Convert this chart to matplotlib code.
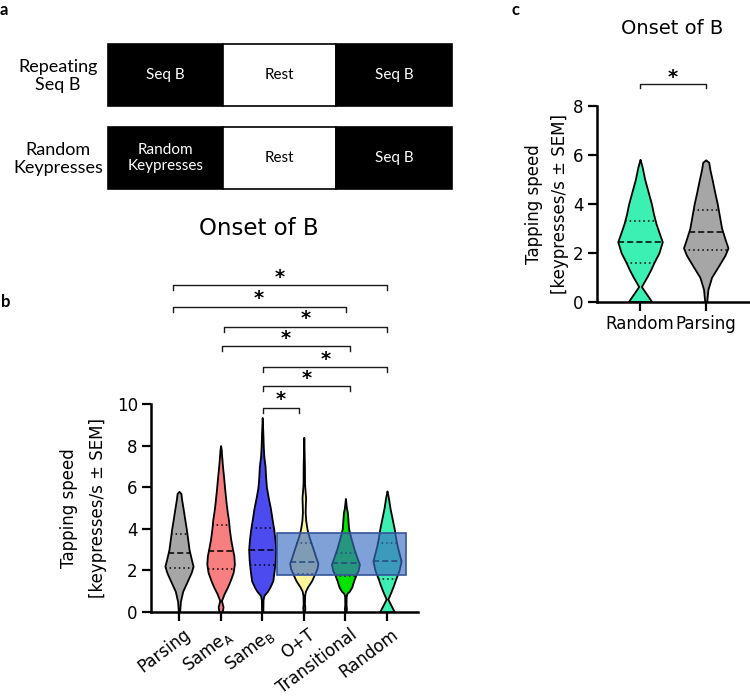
import numpy as np
import matplotlib
matplotlib.use("Agg")
import matplotlib.pyplot as plt
from matplotlib.patches import Rectangle
from matplotlib import transforms

plt.rcParams['font.family'] = ['DejaVu Sans']

# ---------------- data ----------------
conditions = ["Parsing", "Same$_\\mathrm{A}$", "Same$_\\mathrm{B}$", "O+T", "Transitional", "Random"]
colors = ["#a6a6a6", "#f77f7f", "#4b4bf0", "#fff59a", "#00e400", "#3cf0b4"]

# violin half-width profiles: y values and half widths (px at panel-b scale)
parsing_y = [0, 0.5, 1.0, 1.5, 1.9, 2.2, 2.5, 3.0, 3.5, 4.0, 4.5, 5.0, 5.4, 5.7, 5.8]
parsing_w = [0.6, 1.3, 3.5, 8.0, 11.5, 13.3, 11.8, 9.5, 8.2, 6.9, 5.3, 3.8, 2.5, 1.8, 0]
same_a_y = [0, 0.25, 0.55, 0.9, 1.2, 1.5, 1.9, 2.3, 2.7, 3.0, 3.5, 4.0, 4.4, 4.8, 5.2, 6.0, 6.5, 7.0, 7.5, 7.8, 8.0]
same_a_w = [1.5, 2.3, 0.8, 3.5, 6.5, 9.0, 11.8, 13.0, 12.5, 11.3, 9.5, 8.2, 7.5, 6.3, 5.3, 3.7, 2.8, 1.8, 1.0, 0.6, 0]
same_b_y = [0, 0.6, 0.8, 1.0, 1.2, 1.5, 2.0, 2.5, 3.0, 3.5, 4.0, 4.5, 5.0, 5.5, 6.0, 6.5, 7.0, 7.5, 8.0, 8.5, 9.35]
same_b_w = [0.6, 0.8, 1.7, 5.0, 7.3, 10.0, 11.3, 12.3, 12.8, 12.0, 10.8, 9.2, 7.7, 5.7, 4.0, 3.2, 2.7, 1.5, 1.0, 0.7, 0]
ot_y = [0, 0.2, 0.4, 0.8, 1.0, 1.2, 1.5, 1.8, 2.1, 2.35, 2.6, 3.0, 3.3, 3.6, 4.0, 4.4, 4.8, 5.2, 5.5, 5.8, 6.2, 7.0, 8.4]
ot_w = [0.6, 1.0, 0.6, 0.8, 1.5, 3.5, 7.3, 10.0, 12.5, 13.3, 11.5, 9.0, 7.0, 5.0, 3.0, 1.8, 1.3, 1.5, 1.7, 1.2, 0.7, 0.6, 0]
trans_y = [0, 0.15, 0.35, 0.75, 0.9, 1.0, 1.2, 1.5, 1.8, 2.0, 2.3, 2.6, 3.0, 3.5, 4.0, 4.5, 4.8, 5.0, 5.46]
trans_w = [0.6, 1.0, 0.6, 0.7, 1.5, 3.7, 6.0, 7.8, 10.0, 12.0, 13.2, 11.0, 8.3, 5.5, 3.0, 2.3, 1.8, 1.0, 0]
random_y = [0, 0.3, 0.62, 1.0, 1.3, 1.6, 2.0, 2.45, 2.8, 3.2, 3.6, 4.0, 4.5, 5.0, 5.5, 5.82]
random_w = [7.0, 4.0, 0.8, 4.0, 6.3, 8.3, 11.3, 13.3, 11.5, 9.5, 8.0, 6.8, 4.8, 2.8, 1.3, 0]

profiles_y = [parsing_y, same_a_y, same_b_y, ot_y, trans_y, random_y]
profiles_w = [parsing_w, same_a_w, same_b_w, ot_w, trans_w, random_w]

medians = [2.85, 2.92, 3.0, 2.42, 2.35, 2.45]
q1 = [2.12, 2.08, 2.28, 1.85, 1.75, 1.60]
q3 = [3.75, 4.20, 4.05, 3.30, 2.85, 3.30]

b_yticks = [0, 2, 4, 6, 8, 10]
c_yticks = [0, 2, 4, 6, 8]
c_conditions = ["Random", "Parsing"]
c_index = [5, 0]

# significance brackets panel b: (x start, x end, bracket height)
br_x1 = [-0.15, -0.15, 1.07, 1.03, 2.01, 2.01, 2.01]
br_x2 = [5.0, 4.01, 5.0, 4.11, 5.0, 4.11, 2.89]
br_y = [15.7, 14.68, 13.72, 12.79, 11.79, 10.87, 9.81]
star_x = [2.43, 1.92, 3.05, 2.57, 3.53, 3.07, 2.45]
star_y = [16.35, 15.34, 14.38, 13.41, 12.4, 11.49, 10.48]

# panel a design
row_labels = ["Repeating\nSeq B", "Random\nKeypresses"]
block_labels = [["Seq B", "Rest", "Seq B"], ["Random\nKeypresses", "Rest", "Seq B"]]
block_fill = ["black", "white", "black"]

# ---------------- figure ----------------
W, H = 750, 698
fig = plt.figure(figsize=(W / 100, H / 100), dpi=100)

def fx(px):
    return px / W

def fy(py):
    return 1 - py / H

PX_PER_CAT = 41.6 / 1.06

def style_axes(ax):
    for s in ["top", "right"]:
        ax.spines[s].set_visible(False)
    for s in ["left", "bottom"]:
        ax.spines[s].set_linewidth(1.8)
    ax.tick_params(direction="out", length=6.5, width=1.6, labelsize=12, pad=3)

def draw_violin(ax, x, ys, ws, color, med, lo, hi):
    yy = np.linspace(ys[0], ys[-1], 500)
    ww = np.interp(yy, ys, ws) / PX_PER_CAT
    ax.fill_betweenx(yy, x - ww, x + ww, facecolor=color, edgecolor="black", lw=1.3, zorder=2)
    for q, ls in ((med, (0, (4, 2))), (lo, (0, (1, 2))), (hi, (0, (1, 2)))):
        h = np.interp(q, ys, ws) / PX_PER_CAT
        ax.plot([x - h, x + h], [q, q], color="black", lw=1.1, ls=ls, zorder=3)

# ---- panel a ----
axa = fig.add_axes([0, 0, 1, 1])
axa.set_xlim(0, W)
axa.set_ylim(H, 0)
axa.axis("off")
axa.set_zorder(-1)
row_top = [44, 127]
row_h = 62
seg_x = [108, 223, 336, 452]
for r in range(2):
    for s in range(3):
        axa.add_patch(Rectangle((seg_x[s], row_top[r]), seg_x[s + 1] - seg_x[s], row_h,
                                facecolor=block_fill[s], edgecolor="black", lw=1.2))
        axa.text((seg_x[s] + seg_x[s + 1]) / 2, row_top[r] + row_h / 2, block_labels[r][s],
                 color="white" if block_fill[s] == "black" else "black",
                 ha="center", va="center", fontsize=11, family="Lato", linespacing=1.25)
    axa.text(58, row_top[r] + row_h / 2 + 1, row_labels[r], ha="center", va="center",
             fontsize=13, family="Lato", linespacing=1.2)

fig.text(fx(0), fy(15), "a", fontsize=12, fontweight="bold", family="Lato", va="baseline")
fig.text(fx(1), fy(307), "b", fontsize=12, fontweight="bold", family="Lato", va="baseline")
fig.text(fx(512), fy(15), "c", fontsize=12, fontweight="bold", family="Lato", va="baseline")

# ---- panel b ----
axb = fig.add_axes([fx(151), fy(612), fx(418) - fx(151), fy(404) - fy(612)])
style_axes(axb)
for i in range(len(conditions)):
    draw_violin(axb, i, profiles_y[i], profiles_w[i], colors[i], medians[i], q1[i], q3[i])
axb.add_patch(Rectangle((2.36, 1.78), 5.46 - 2.36, 3.8 - 1.78, facecolor=(60/255, 109/255, 195/255, 0.65),
                        edgecolor="#34559a", lw=1.2, zorder=4))
axb.set_xlim(-0.673, 5.745)
axb.set_ylim(0, 10)
axb.set_yticks(b_yticks)
axb.set_xticks(range(len(conditions)))
axb.set_xticklabels(conditions, rotation=37, ha="right", rotation_mode="anchor")
for lbl in axb.get_xticklabels():
    lbl.set_transform(lbl.get_transform() + transforms.ScaledTranslation(4 / 100, 0, fig.dpi_scale_trans))
axb.set_ylabel("Tapping speed\n[keypresses/s ± SEM]", fontsize=12, linespacing=1.75, labelpad=7)

star_off = transforms.offset_copy(axb.transData, fig=fig, x=0, y=-11, units="dots")
for k in range(len(br_y)):
    d = 0.24
    axb.plot([br_x1[k], br_x1[k], br_x2[k], br_x2[k]], [br_y[k] - d, br_y[k], br_y[k], br_y[k] - d],
             color="#1a1a1a", lw=1.0, clip_on=False)
    axb.text(star_x[k], star_y[k], "*", transform=star_off, ha="center", va="baseline",
             fontsize=14, fontweight="bold", clip_on=False)

fig.text(fx(258.5), fy(235), "Onset of B", fontsize=16.5, ha="center", va="baseline")

# ---- panel c ----
axc = fig.add_axes([fx(597), fy(301.7), fx(750) - fx(597), fy(106) - fy(301.7)])
style_axes(axc)
for j, i in enumerate(c_index):
    draw_violin(axc, j, profiles_y[i], profiles_w[i], colors[i], medians[i], q1[i], q3[i])
axc.set_xlim(-0.655, 1.674)
axc.set_ylim(0, 8)
axc.set_yticks(c_yticks)
axc.set_xticks(range(len(c_conditions)))
axc.set_xticklabels(c_conditions)
axc.set_ylabel("Tapping speed\n[keypresses/s ± SEM]", fontsize=12, linespacing=1.6, labelpad=3)
axc.plot([0, 0, 1, 1], [8.89 - 0.16, 8.89, 8.89, 8.89 - 0.16], color="#1a1a1a", lw=1.0, clip_on=False)
star_off_c = transforms.offset_copy(axc.transData, fig=fig, x=0, y=-11, units="dots")
axc.text(0.5, 9.4, "*", transform=star_off_c, ha="center", va="baseline", fontsize=14,
         fontweight="bold", clip_on=False)
fig.text(fx(672), fy(34.3), "Onset of B", fontsize=14, ha="center", va="baseline")

fig.savefig("out.png", dpi=100)
